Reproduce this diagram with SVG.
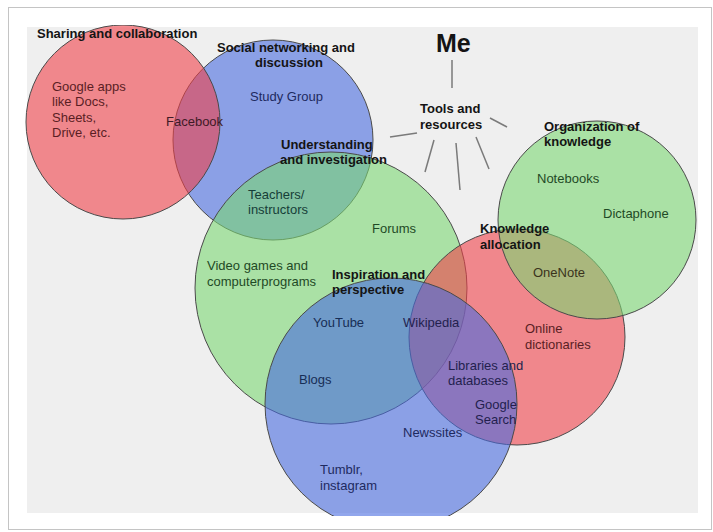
<svg xmlns="http://www.w3.org/2000/svg" width="713" height="532" viewBox="0 0 713 532">
<defs>
<clipPath id="area"><rect x="10" y="25" width="690" height="491"/></clipPath>
</defs>
<style>
.c{stroke:#4a4a4a;stroke-width:1;fill-opacity:0.6}
.r{fill:#f04149}
.b{fill:#486be0}
.g{fill:#7bd773}
.t{font-family:"Liberation Sans",Arial,sans-serif;font-size:13px;font-weight:bold;fill:#141414}
.i{font-family:"Liberation Sans",Arial,sans-serif;font-size:13px}
.ln{stroke:#7a7a7a;stroke-width:1.5;fill:none}
</style>
<rect x="0" y="0" width="713" height="532" fill="#ffffff"/>
<rect x="8.5" y="7.5" width="703" height="522" fill="#ffffff" stroke="#c4c4c4" stroke-width="1"/>
<rect x="27" y="27" width="671" height="486" fill="#efefef"/>
<g id="circles" clip-path="url(#area)">
<circle id="c-social" class="c b" cx="273" cy="140" r="100"/>
<circle id="c-sharing" class="c r" cx="123" cy="122" r="97"/>
<circle id="c-understanding" class="c g" cx="331" cy="288" r="136"/>
<circle id="c-allocation" class="c r" cx="517" cy="337" r="108"/>
<circle id="c-organization" class="c g" cx="597" cy="220" r="99"/>
<circle id="c-inspiration" class="c b" cx="391" cy="404" r="126"/>
</g>
<g id="connectors">
<line class="ln" x1="452" y1="60" x2="452" y2="88"/>
<line class="ln" x1="417" y1="133" x2="390" y2="137"/>
<line class="ln" x1="490" y1="118" x2="507" y2="127"/>
<line class="ln" x1="434" y1="140" x2="425" y2="172"/>
<line class="ln" x1="456" y1="143" x2="460" y2="190"/>
<line class="ln" x1="476" y1="137" x2="489" y2="169"/>
</g>
<g id="node-me"><text class="t" x="436" y="52" style="font-size:25px">Me</text></g>
<g id="node-tools"><text class="t" x="420" y="113">Tools and</text><text class="t" x="420" y="129">resources</text></g>
<g id="node-sharing">
<text class="t" x="37" y="38">Sharing and collaboration</text>
<text class="i" x="52" y="91" fill="#5a1e24">Google apps</text>
<text class="i" x="52" y="106" fill="#5a1e24">like Docs,</text>
<text class="i" x="52" y="122" fill="#5a1e24">Sheets,</text>
<text class="i" x="52" y="137" fill="#5a1e24">Drive, etc.</text>
<text class="i" x="166" y="126" fill="#3e1a26">Facebook</text>
</g>
<g id="node-social">
<text class="t" x="217" y="52">Social networking and</text>
<text class="t" x="255" y="67">discussion</text>
<text class="i" x="250" y="101" fill="#1e2a60">Study Group</text>
<text class="i" x="248" y="199" fill="#163e38">Teachers/</text>
<text class="i" x="248" y="214" fill="#163e38">instructors</text>
</g>
<g id="node-understanding">
<text class="t" x="281" y="149">Understanding</text>
<text class="t" x="280" y="164">and investigation</text>
<text class="i" x="372" y="233" fill="#1f4a26">Forums</text>
<text class="i" x="207" y="270" fill="#1f4a26">Video games and</text>
<text class="i" x="207" y="286" fill="#1f4a26">computerprograms</text>
</g>
<g id="node-organization">
<text class="t" x="544" y="131">Organization of</text>
<text class="t" x="544" y="146">knowledge</text>
<text class="i" x="537" y="183" fill="#1f4a26">Notebooks</text>
<text class="i" x="603" y="218" fill="#1f4a26">Dictaphone</text>
<text class="i" x="533" y="277" fill="#3a331c">OneNote</text>
</g>
<g id="node-allocation">
<text class="t" x="480" y="233">Knowledge</text>
<text class="t" x="480" y="249">allocation</text>
<text class="i" x="525" y="333" fill="#5a1e24">Online</text>
<text class="i" x="525" y="349" fill="#5a1e24">dictionaries</text>
<text class="i" x="448" y="370" fill="#231f4e">Libraries and</text>
<text class="i" x="448" y="385" fill="#231f4e">databases</text>
<text class="i" x="475" y="409" fill="#231f4e">Google</text>
<text class="i" x="475" y="424" fill="#231f4e">Search</text>
</g>
<g id="node-inspiration">
<text class="t" x="332" y="279">Inspiration and</text>
<text class="t" x="332" y="294">perspective</text>
<text class="i" x="313" y="327" fill="#172e56">YouTube</text>
<text class="i" x="403" y="327" fill="#231f4e">Wikipedia</text>
<text class="i" x="299" y="384" fill="#172e56">Blogs</text>
<text class="i" x="403" y="437" fill="#1e2a60">Newssites</text>
<text class="i" x="320" y="474" fill="#1e2a60">Tumblr,</text>
<text class="i" x="320" y="490" fill="#1e2a60">instagram</text>
</g>
</svg>
